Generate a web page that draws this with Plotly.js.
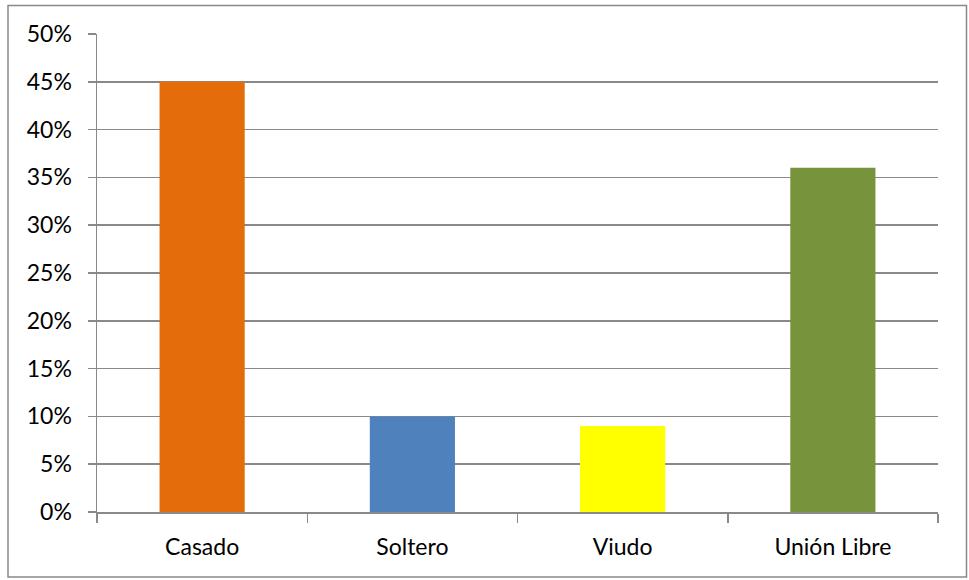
<!DOCTYPE html>
<html>
<head>
<meta charset="utf-8">
<script src="https://cdn.plot.ly/plotly-3.0.1.min.js"></script>
<style>html,body{margin:0;padding:0;background:#fff;}#chart{width:969px;height:580px;}</style>
</head>
<body>
<div id="chart"></div>
<script>
const categories = ["Casado", "Soltero", "Viudo", "Unión Libre"];
const values = [0.45, 0.10, 0.09, 0.36];
const barColors = ["#E46C0A", "#4F81BD", "#FFFF00", "#77933C"];

const trace = {
  type: "bar",
  x: categories,
  y: values,
  marker: { color: barColors, line: { width: 0 } },
  hoverinfo: "x+y"
};

const fontFam = "Lato, 'Open Sans', sans-serif";

const layout = {
  width: 969,
  height: 580,
  margin: { l: 97, r: 31, t: 33.5, b: 68 },
  paper_bgcolor: "#ffffff",
  plot_bgcolor: "#ffffff",
  bargap: 0.595,
  showlegend: false,
  font: { family: fontFam, size: 23, color: "#000000" },
  xaxis: {
    type: "category",
    showgrid: false,
    showline: true,
    linecolor: "#898989",
    linewidth: 1.5,
    ticks: "outside",
    tickson: "boundaries",
    ticklen: 9,
    tickwidth: 1.5,
    tickcolor: "#898989",
    ticklabelstandoff: 14,
    tickfont: { family: fontFam, size: 23, color: "#000000" },
    zeroline: false
  },
  yaxis: {
    range: [0, 0.5],
    dtick: 0.05,
    tick0: 0,
    tickformat: ".0%",
    showgrid: true,
    gridcolor: "#898989",
    gridwidth: 1.5,
    showline: true,
    linecolor: "#898989",
    linewidth: 1.5,
    ticks: "outside",
    ticklen: 8,
    tickwidth: 1.5,
    tickcolor: "#898989",
    ticklabelstandoff: 11,
    tickfont: { family: fontFam, size: 23, color: "#000000" },
    zeroline: false,
    fixedrange: true
  },
  shapes: [{
    type: "rect",
    xref: "paper", yref: "paper",
    x0: (8 - 97) / 841, x1: (966.5 - 97) / 841,
    y0: (512 - 577) / 478.5, y1: (512 - 5) / 478.5,
    line: { color: "#898989", width: 1.5 },
    fillcolor: "rgba(0,0,0,0)",
    layer: "below"
  }]
};

Plotly.newPlot("chart", [trace], layout, { displayModeBar: false, staticPlot: true });
</script>
</body>
</html>
